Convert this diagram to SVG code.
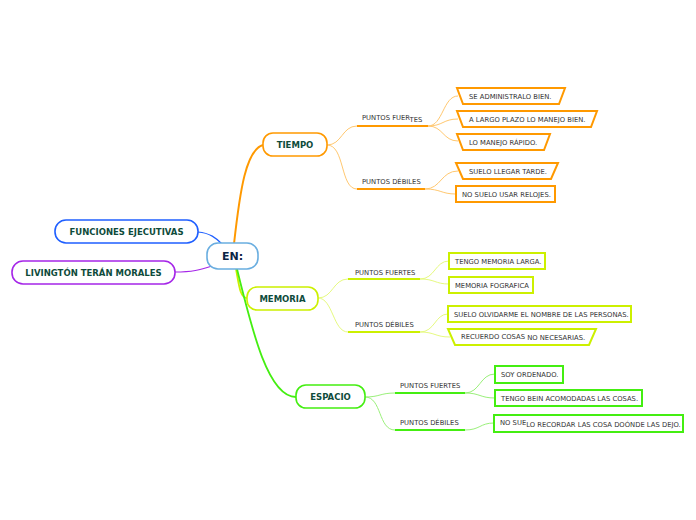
<svg xmlns="http://www.w3.org/2000/svg" width="696" height="520" viewBox="0 0 696 520">
<style>
.node{fill:#fff;stroke-width:1.6}
.nt{font-family:"DejaVu Sans",Verdana,sans-serif;font-weight:bold;font-size:8.5px;fill:#0e4b3b;text-anchor:middle}
.lt{font-family:"DejaVu Sans",Verdana,sans-serif;font-size:6.8px;fill:#333}
.leaf{fill:#fff;stroke-width:2}
.thin{fill:none;stroke-width:1}
.ul{fill:none;stroke-width:2}
.o{stroke:#ff9900}.ol{stroke:#ffc870}
.y{stroke:#ccf000}.yl{stroke:#e6fa80}
.g{stroke:#44ee11}.gl{stroke:#9af07a}
</style>
<rect width="696" height="520" fill="#fff"/>
<g id="connectors">
<path d="M198 232 C210 233 216 238 222 244" fill="none" stroke="#2060ff" stroke-width="1.2"/>
<path d="M175 272 C192 272 200 270 212 266" fill="none" stroke="#a526e8" stroke-width="1.2"/>
<path d="M234 244 C240 190 246 150 263 145" fill="none" stroke="#ff9900" stroke-width="2"/>
<path d="M236 269 C239 285 240 298 247 298" fill="none" stroke="#ccf000" stroke-width="1.8"/>
<path d="M237 269 C252 330 268 397 296 397" fill="none" stroke="#44ee11" stroke-width="1.8"/>
<!-- TIEMPO -->
<path class="thin ol" d="M327 145 C342 145 342 126 357 126"/>
<path class="thin ol" d="M327 145 C345 145 340 189 357 189"/>
<path class="ul o" d="M357 126 H428"/>
<path class="ul o" d="M357 189 H425"/>
<path class="thin ol" d="M428 126 C443 126 443 96 458 96"/>
<path class="thin ol" d="M428 126 C443 126 443 119 458 119"/>
<path class="thin ol" d="M428 126 C443 126 443 141 458 141"/>
<path class="thin ol" d="M425 189 C441 189 441 171 458 171"/>
<path class="thin ol" d="M425 189 C441 189 441 194 456 194"/>
<!-- MEMORIA -->
<path class="thin yl" d="M318 298 C333 298 333 279 348 279"/>
<path class="thin yl" d="M318 298 C333 298 333 332 348 332"/>
<path class="ul y" d="M348 279 H420"/>
<path class="ul y" d="M348 332 H420"/>
<path class="thin yl" d="M420 279 C435 279 435 261 449 261"/>
<path class="thin yl" d="M420 279 C435 279 435 284 449 284"/>
<path class="thin yl" d="M420 332 C435 332 435 314 448 314"/>
<path class="thin yl" d="M420 332 C435 332 435 337 450 337"/>
<!-- ESPACIO -->
<path class="thin gl" d="M365 397 C380 397 380 393 395 393"/>
<path class="thin gl" d="M365 397 C382 397 378 430 395 430"/>
<path class="ul g" d="M395 393 H465"/>
<path class="ul g" d="M395 430 H465"/>
<path class="thin gl" d="M465 393 C480 393 480 374 495 374"/>
<path class="thin gl" d="M465 393 C480 393 480 398 495 398"/>
<path class="thin gl" d="M465 430 C480 430 480 423 494 423"/>
</g>
<g id="n-en"><rect class="node" x="207" y="243" width="51" height="26" rx="11" stroke="#6aaee0"/><text x="232.5" y="260" font-family="DejaVu Sans,Verdana,sans-serif" font-weight="bold" font-size="11" fill="#0b2545" text-anchor="middle">EN:</text></g>
<g id="n-fe"><rect class="node" x="55" y="220" width="143" height="23" rx="11" stroke="#1f5fff"/><text class="nt" x="126.5" y="235">FUNCIONES EJECUTIVAS</text></g>
<g id="n-lt"><rect class="node" x="12" y="261" width="163" height="23" rx="11" stroke="#a526e8"/><text class="nt" x="93.5" y="276">LIVINGTÓN TERÁN MORALES</text></g>
<g id="n-tiempo"><rect class="node" x="263" y="133" width="64" height="23" rx="10" stroke="#ff9900"/><text class="nt" x="295" y="148">TIEMPO</text></g>
<g id="n-memoria"><rect class="node" x="247" y="287" width="71" height="23" rx="10" stroke="#ccf000"/><text class="nt" x="282.5" y="302">MEMORIA</text></g>
<g id="n-espacio"><rect class="node" x="296" y="385" width="69" height="23" rx="10" stroke="#44ee11"/><text class="nt" x="330.5" y="400">ESPACIO</text></g>
<g id="l-t-pf"><text class="lt" x="362" y="120">PUNTOS FUER<tspan dy="1.5">TES</tspan></text></g>
<g id="l-t-pd"><text class="lt" x="362" y="184">PUNTOS DÉBILES</text></g>
<g id="l-m-pf"><text class="lt" x="355" y="275">PUNTOS FUERTES</text></g>
<g id="l-m-pd"><text class="lt" x="355" y="327">PUNTOS DÉBILES</text></g>
<g id="l-e-pf"><text class="lt" x="400" y="388">PUNTOS FUERTES</text></g>
<g id="l-e-pd"><text class="lt" x="400" y="425">PUNTOS DÉBILES</text></g>
<g id="t1"><polygon class="leaf o" points="457,88 565,88 559,104 463,104"/><text class="lt" x="469" y="99">SE ADMINISTRALO BIEN.</text></g>
<g id="t2"><polygon class="leaf o" points="457,111 597,111 591,127 463,127"/><text class="lt" x="469" y="122">A LARGO PLAZO LO MANEJO BIEN.</text></g>
<g id="t3"><polygon class="leaf o" points="457,134 550,134 544,150 463,150"/><text class="lt" x="469" y="145">LO MANEJO RÁPIDO.</text></g>
<g id="t4"><polygon class="leaf o" points="456,163 558,163 551,179 463,179"/><text class="lt" x="469" y="174">SUELO LLEGAR TARDE.</text></g>
<g id="t5"><rect class="leaf o" x="456" y="186" width="99" height="16"/><text class="lt" x="462" y="197">NO SUELO USAR RELOJES.</text></g>
<g id="m1"><rect class="leaf y" x="449" y="253" width="96" height="16"/><text class="lt" x="455" y="264">TENGO MEMORIA LARGA.</text></g>
<g id="m2"><rect class="leaf y" x="449" y="277" width="84" height="16"/><text class="lt" x="455" y="288">MEMORIA FOGRAFICA</text></g>
<g id="m3"><rect class="leaf y" x="448" y="306" width="183" height="16"/><text class="lt" x="454" y="317">SUELO OLVIDARME EL NOMBRE DE LAS PERSONAS.</text></g>
<g id="m4"><polygon class="leaf y" points="448,329 596,329 589,345 455,345"/><text class="lt" x="461" y="339">RECUERDO COSAS<tspan dy="1.2"> NO NECESARIAS.</tspan></text></g>
<g id="e1"><rect class="leaf g" x="495" y="366" width="68" height="17"/><text class="lt" x="501" y="377">SOY ORDENADO.</text></g>
<g id="e2"><rect class="leaf g" x="495" y="390" width="147" height="16"/><text class="lt" x="501" y="401">TENGO BEIN ACOMODADAS LAS COSAS.</text></g>
<g id="e3"><rect class="leaf g" x="494" y="415" width="189" height="17"/><text class="lt" x="500" y="425">NO SUE<tspan dy="1.5">LO RECORDAR LAS COSA DOÓNDE LAS DEJO.</tspan></text></g>
</svg>
